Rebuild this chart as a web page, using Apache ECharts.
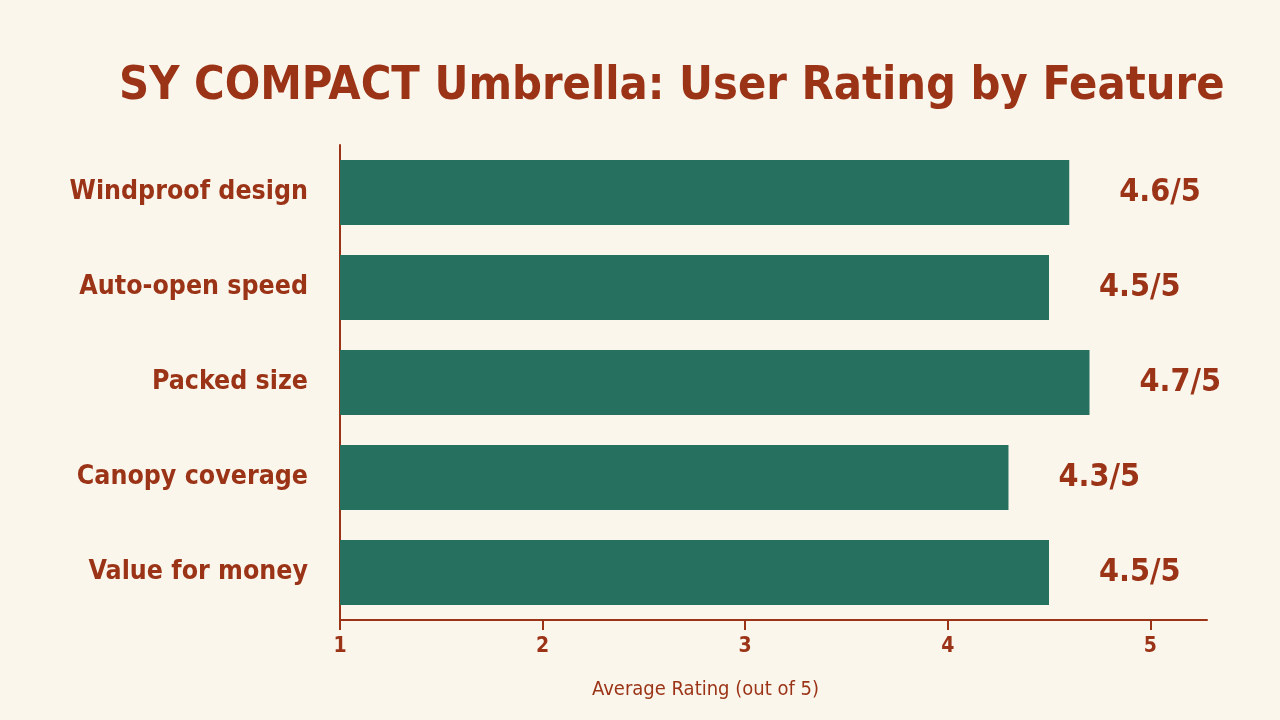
<!DOCTYPE html>
<html>
<head>
<meta charset="utf-8">
<script src="https://cdn.jsdelivr.net/npm/echarts@6/dist/echarts.min.js"></script>
<style>
  html, body { margin: 0; padding: 0; background: #fbf6ec; }
  #main { width: 1280px; height: 720px; }
</style>
</head>
<body>
<div id="main"></div>
<script>
var features = ['Windproof design', 'Auto-open speed', 'Packed size', 'Canopy coverage', 'Value for money'];
var ratings = [4.6, 4.5, 4.7, 4.3, 4.5];
var xTicks = [1, 2, 3, 4, 5];

var red = '#9b3417';
var green = '#26705f';
var font = "'DejaVu Sans Condensed', 'Liberation Sans Narrow', sans-serif";

var dom = document.getElementById("main");
var myChart = echarts.init(dom);
var option = {
    backgroundColor: '#fbf6ec',
    title: {
        text: 'SY COMPACT Umbrella: User Rating by Feature',
        left: 114,
        top: 58,
        textStyle: {
            color: red,
            fontFamily: font,
            fontWeight: 'bold',
            fontSize: 46.5
        }
    },
    grid: {
        left: 340,
        right: 73,
        top: 145,
        bottom: 100,
        containLabel: false
    },
    xAxis: {
        type: 'value',
        min: 1,
        max: 5.28,
        interval: 1,
        name: 'Average Rating (out of 5)',
        nameLocation: 'middle',
        nameGap: 60,
        nameTextStyle: { color: red, fontFamily: font, fontSize: 20, padding: [0, 136, 0, 0] },
        axisLine: { show: true, lineStyle: { color: red, width: 2 } },
        axisTick: { show: true, length: 10, customValues: xTicks, lineStyle: { color: red, width: 2 } },
        axisLabel: { customValues: xTicks, color: red, fontFamily: font, fontWeight: 'bold', fontSize: 21, margin: 16 },
        splitLine: { show: false }
    },
    yAxis: {
        type: 'category',
        inverse: true,
        data: features,
        axisLine: { show: true, lineStyle: { color: red, width: 2 } },
        axisTick: { show: false },
        axisLabel: { color: red, fontFamily: font, fontWeight: 'bold', fontSize: 26.5, margin: 32 }
    },
    series: [{
        type: 'bar',
        data: ratings,
        barWidth: 65,
        itemStyle: { color: green },
        label: {
            show: true,
            position: 'right',
            distance: 50,
            formatter: function (p) { return p.value.toFixed(1) + '/5'; },
            color: red,
            fontFamily: font,
            fontWeight: 'bold',
            fontSize: 32
        }
    }]
};
myChart.setOption(option, true);
</script>
</body>
</html>
